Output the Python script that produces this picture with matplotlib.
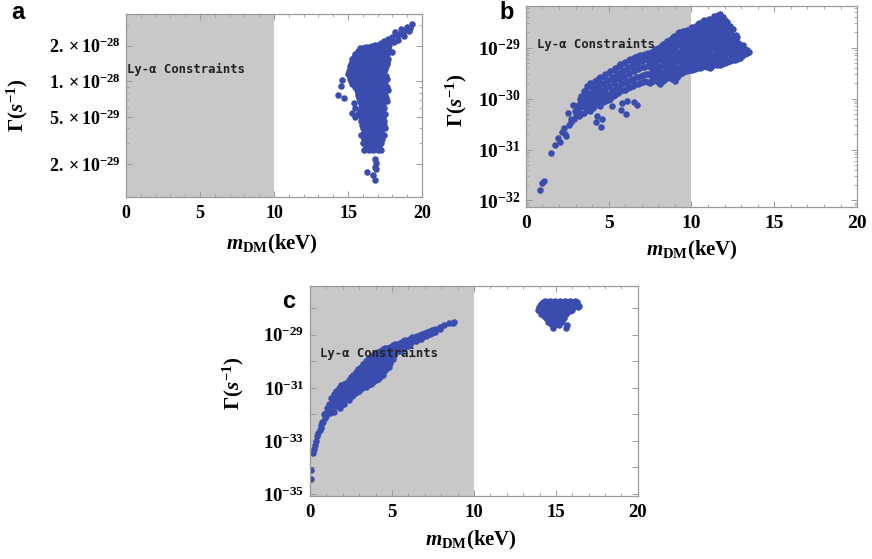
import numpy as np
import matplotlib
matplotlib.use("Agg")
import matplotlib.pyplot as plt
from matplotlib.ticker import FixedLocator, MultipleLocator, NullFormatter, LogLocator

# ---- data ----
# panel a : (m_DM in keV, Gamma in units of 1e-29 s^-1)
points_a = [
    # upper right branch
    (19.3, 30.5), (19.2, 28.5), (19.0, 29), (18.9, 27), (18.7, 26.5), (18.6, 28), (18.5, 25),
    (18.3, 24.5), (18.2, 26), (18.0, 23.5), (17.9, 22), (17.7, 23), (17.6, 21.5), (17.4, 22),
    (17.2, 21), (17.0, 20.5), (16.8, 20.5), (16.6, 20), (16.4, 19.5), (16.2, 19.5), (16.0, 19),
    (18.4, 22.5), (18.1, 21.5), (17.8, 20.5), (17.5, 20), (19.1, 26.5), (18.8, 24), (17.3, 19.5),
    (17.8, 18.5), (18.0, 17.8),
    # main body
    (15.8, 19), (16.1, 19), (16.4, 19), (16.7, 19), (17.0, 19), (17.3, 19),
    (15.65, 18), (15.95, 18), (16.25, 18), (16.55, 18), (16.85, 18), (17.15, 18), (17.45, 18),
    (15.5, 17), (15.8, 17), (16.1, 17), (16.4, 17), (16.7, 17), (17.0, 17), (17.3, 17), (17.6, 17),
    (15.4, 16.2), (15.7, 16.2), (16.0, 16.2), (16.3, 16.2), (16.6, 16.2), (16.9, 16.2), (17.2, 16.2),
    (17.5, 16.2),
    (15.3, 15.5), (15.6, 15.5), (15.9, 15.5), (16.2, 15.5), (16.5, 15.5), (16.8, 15.5), (17.1, 15.5),
    (17.4, 15.5), (17.7, 15.5),
    (15.25, 14.7), (15.55, 14.7), (15.85, 14.7), (16.15, 14.7), (16.45, 14.7), (16.75, 14.7),
    (17.05, 14.7), (17.35, 14.7), (17.65, 14.7),
    (15.2, 14), (15.5, 14), (15.8, 14), (16.1, 14), (16.4, 14), (16.7, 14), (17.0, 14), (17.3, 14),
    (17.6, 14),
    (15.15, 13.4), (15.45, 13.4), (15.75, 13.4), (16.05, 13.4), (16.35, 13.4), (16.65, 13.4),
    (16.95, 13.4), (17.25, 13.4), (17.55, 13.4),
    (15.1, 12.8), (15.4, 12.8), (15.7, 12.8), (16.0, 12.8), (16.3, 12.8), (16.6, 12.8), (16.9, 12.8),
    (17.2, 12.8), (17.5, 12.8),
    (15.05, 12.2), (15.35, 12.2), (15.65, 12.2), (15.95, 12.2), (16.25, 12.2), (16.55, 12.2),
    (16.85, 12.2), (17.15, 12.2), (17.45, 12.2),
    (15.0, 11.6), (15.3, 11.6), (15.6, 11.6), (15.9, 11.6), (16.2, 11.6), (16.5, 11.6), (16.8, 11.6),
    (17.1, 11.6), (17.4, 11.6),
    (15.1, 11.0), (15.45, 11.0), (15.75, 11.0), (16.05, 11.0), (16.35, 11.0), (16.65, 11.0),
    (16.95, 11.0), (17.25, 11.0), (17.55, 11.0),
    (15.1, 10.5), (15.4, 10.5), (15.8, 10.5), (16.1, 10.5), (16.4, 10.5), (16.7, 10.5), (17.0, 10.5),
    (17.3, 10.5), (17.6, 10.5),
    (15.2, 10.0), (15.55, 10.0), (15.9, 10.0), (16.2, 10.0), (16.5, 10.0), (16.8, 10.0), (17.1, 10.0),
    (17.4, 10.0),
    (15.3, 9.5), (15.7, 9.5), (16.0, 9.5), (16.3, 9.5), (16.6, 9.5), (16.9, 9.5), (17.2, 9.5),
    (17.5, 9.5),
    (15.5, 9.0), (15.8, 9.0), (16.1, 9.0), (16.4, 9.0), (16.7, 9.0), (17.0, 9.0), (17.3, 9.0),
    (17.6, 9.0),
    (14.6, 10.3), (14.5, 9.2), (14.3, 7.7), (14.7, 7.2),
    (15.6, 8.5), (15.9, 8.5), (16.2, 8.5), (16.5, 8.5), (16.8, 8.5), (17.1, 8.5), (17.4, 8.5),
    (17.7, 8.5),
    (15.65, 8.0), (15.95, 8.0), (16.25, 8.0), (16.55, 8.0), (16.85, 8.0), (17.15, 8.0), (17.45, 8.0),
    (15.7, 7.6), (16.0, 7.6), (16.3, 7.6), (16.6, 7.6), (16.9, 7.6), (17.2, 7.6), (17.5, 7.6),
    (15.75, 7.2), (16.05, 7.2), (16.35, 7.2), (16.65, 7.2), (16.95, 7.2), (17.25, 7.2), (17.55, 7.2),
    (15.8, 6.8), (16.1, 6.8), (16.4, 6.8), (16.7, 6.8), (17.0, 6.8), (17.3, 6.8), (17.6, 6.8),
    (15.4, 6.6), (15.5, 6.0),
    (15.85, 6.4), (16.15, 6.4), (16.45, 6.4), (16.75, 6.4), (17.05, 6.4), (17.35, 6.4),
    (15.9, 6.0), (16.2, 6.0), (16.5, 6.0), (16.8, 6.0), (17.1, 6.0), (17.4, 6.0),
    (15.8, 5.65), (16.1, 5.65), (16.4, 5.65), (16.7, 5.65), (17.0, 5.65), (17.3, 5.65),
    (15.7, 5.3), (16.0, 5.3), (16.3, 5.3), (16.6, 5.3), (16.9, 5.3), (17.2, 5.3), (17.5, 5.3),
    (15.3, 5.4), (15.5, 5.0),
    (15.85, 4.95), (16.15, 4.95), (16.45, 4.95), (16.75, 4.95), (17.05, 4.95), (17.35, 4.95),
    (15.9, 4.6), (16.2, 4.6), (16.5, 4.6), (16.8, 4.6), (17.1, 4.6), (17.4, 4.6),
    (15.95, 4.3), (16.25, 4.3), (16.55, 4.3), (16.85, 4.3), (17.15, 4.3), (17.45, 4.3),
    (16.0, 4.0), (16.3, 4.0), (16.6, 4.0), (16.9, 4.0), (17.2, 4.0), (17.5, 4.0),
    (16.05, 3.75), (16.35, 3.75), (16.65, 3.75), (16.95, 3.75), (17.25, 3.75),
    (15.9, 3.5), (16.2, 3.5), (16.5, 3.5), (16.8, 3.5), (17.1, 3.5), (17.4, 3.5),
    (16.1, 3.25), (16.4, 3.25), (16.7, 3.25), (17.0, 3.25), (17.3, 3.25),
    (16.0, 3.0), (16.3, 3.0), (16.6, 3.0), (16.9, 3.0), (17.2, 3.0),
    (16.2, 2.8), (16.5, 2.8), (16.8, 2.8), (17.1, 2.8),
    (16.1, 2.6), (16.4, 2.6), (16.7, 2.6), (17.0, 2.6), (17.2, 2.6),
    # lower tail
    (16.8, 2.2), (16.9, 2.05), (16.8, 1.9), (16.9, 1.8), (16.3, 1.72), (16.7, 1.62), (16.8, 1.45),
]

# panel b : (m_DM in keV, Gamma in units of 1e-29 s^-1)
points_b = [
    (0.85, 0.0016), (1.0, 0.0022), (1.1, 0.0024), (1.55, 0.0085), (1.75, 0.0125), (2.05, 0.014),
    (1.95, 0.017), (2.2, 0.022),
    (2.35, 0.02), (2.3, 0.026), (2.45, 0.018),
    (2.6, 0.03), (2.7, 0.04), (2.55, 0.052), (2.75, 0.035),
    (2.9, 0.04), (2.95, 0.056), (2.85, 0.074), (3.05, 0.05), (3.05, 0.07),
    (3.2, 0.045), (3.15, 0.062), (3.3, 0.08), (3.25, 0.1),
    (3.35, 0.05), (3.35, 0.068), (3.4, 0.088), (3.35, 0.11),
    (3.5, 0.052), (3.55, 0.07), (3.45, 0.09), (3.6, 0.12), (3.5, 0.14),
    (3.7, 0.06), (3.7, 0.08), (3.7, 0.11), (3.65, 0.15), (3.7, 0.18),
    (3.85, 0.056), (3.95, 0.075), (3.8, 0.1), (3.9, 0.13), (4.0, 0.17), (3.85, 0.2),
    (4.05, 0.065), (4.05, 0.09), (4.05, 0.115), (4.1, 0.15), (4.05, 0.19),
    (4.2, 0.08), (4.25, 0.1), (4.15, 0.13), (4.3, 0.17), (4.2, 0.22), (4.3, 0.045), (4.25, 0.035),
    (4.35, 0.075), (4.35, 0.095), (4.4, 0.12), (4.35, 0.16), (4.4, 0.21), (4.35, 0.24),
    (4.5, 0.07), (4.55, 0.1), (4.45, 0.14), (4.6, 0.19), (4.5, 0.26), (4.6, 0.04), (4.55, 0.028),
    (4.65, 0.085), (4.65, 0.11), (4.7, 0.15), (4.65, 0.2), (4.7, 0.27),
    (4.8, 0.09), (4.85, 0.12), (4.75, 0.16), (4.9, 0.22), (4.8, 0.3),
    (4.95, 0.095), (4.95, 0.125), (5.0, 0.17), (4.95, 0.235), (5.0, 0.32),
    (5.1, 0.1), (5.15, 0.13), (5.05, 0.18), (5.2, 0.25), (5.1, 0.34), (5.2, 0.07),
    (5.25, 0.11), (5.25, 0.145), (5.3, 0.2), (5.25, 0.27), (5.3, 0.37),
    (5.4, 0.12), (5.45, 0.16), (5.35, 0.22), (5.5, 0.3), (5.4, 0.4),
    (5.55, 0.13), (5.55, 0.175), (5.6, 0.24), (5.55, 0.32), (5.6, 0.43),
    (5.7, 0.14), (5.75, 0.19), (5.65, 0.26), (5.8, 0.35), (5.7, 0.47), (5.75, 0.06), (5.8, 0.08),
    (5.85, 0.145), (5.85, 0.2), (5.9, 0.27), (5.85, 0.36), (5.9, 0.5),
    (6.0, 0.15), (6.05, 0.2), (5.95, 0.28), (6.1, 0.38), (6.0, 0.52), (6.05, 0.05), (6.1, 0.09),
    (6.15, 0.16), (6.15, 0.22), (6.2, 0.3), (6.15, 0.41), (6.2, 0.56),
    (6.3, 0.17), (6.35, 0.23), (6.25, 0.32), (6.4, 0.44), (6.3, 0.6), (6.5, 0.085),
    (6.45, 0.18), (6.45, 0.245), (6.5, 0.34), (6.45, 0.47), (6.5, 0.62),
    (6.6, 0.19), (6.65, 0.26), (6.55, 0.36), (6.7, 0.5), (6.6, 0.64), (6.7, 0.075),
    (6.75, 0.195), (6.75, 0.27), (6.8, 0.38), (6.75, 0.52), (6.8, 0.67),
    (6.9, 0.2), (6.95, 0.28), (6.85, 0.4), (7.0, 0.55), (6.9, 0.7),
    (7.05, 0.21), (7.05, 0.29), (7.1, 0.41), (7.05, 0.56), (7.1, 0.72),
    (7.2, 0.22), (7.25, 0.3), (7.15, 0.42), (7.3, 0.58), (7.2, 0.75),
    (7.35, 0.21), (7.35, 0.3), (7.4, 0.43), (7.35, 0.6), (7.4, 0.78),
    (7.5, 0.2), (7.55, 0.3), (7.45, 0.45), (7.6, 0.62), (7.5, 0.8),
    (7.65, 0.22), (7.65, 0.31), (7.7, 0.46), (7.65, 0.65), (7.7, 0.86),
    (7.6, 0.26), (7.6, 0.38), (7.6, 0.54), (7.6, 0.75),
    (7.8, 0.23), (7.85, 0.33), (7.75, 0.48), (7.9, 0.68), (7.8, 0.92),
    (7.9, 0.27), (7.9, 0.4), (7.9, 0.57), (7.9, 0.8),
    (7.95, 0.21), (7.95, 0.3), (8.0, 0.43), (7.95, 0.61), (8.0, 0.85), (7.95, 1.0),
    (8.1, 0.19), (8.15, 0.27), (8.05, 0.38), (8.2, 0.55), (8.1, 0.78), (8.15, 1.05),
    (8.2, 0.23), (8.2, 0.32), (8.2, 0.46), (8.2, 0.66), (8.2, 0.95),
    (8.25, 0.22), (8.25, 0.31), (8.3, 0.44), (8.25, 0.63), (8.3, 0.9), (8.25, 1.15),
    (8.4, 0.24), (8.45, 0.34), (8.35, 0.5), (8.5, 0.72), (8.4, 1.0), (8.45, 1.25),
    (8.5, 0.29), (8.5, 0.41), (8.5, 0.6), (8.5, 0.86), (8.5, 1.12),
    (8.55, 0.25), (8.55, 0.36), (8.6, 0.52), (8.55, 0.76), (8.6, 1.05), (8.55, 1.35),
    (8.7, 0.26), (8.75, 0.38), (8.65, 0.55), (8.8, 0.8), (8.7, 1.1), (8.75, 1.45),
    (8.8, 0.31), (8.8, 0.45), (8.8, 0.66), (8.8, 0.95), (8.8, 1.27),
    (8.85, 0.24), (8.85, 0.35), (8.9, 0.5), (8.85, 0.74), (8.9, 1.05), (8.85, 1.4), (8.9, 1.6),
    (9.0, 0.22), (9.05, 0.32), (8.95, 0.46), (9.1, 0.68), (9.0, 1.0), (9.05, 1.35), (8.95, 1.7),
    (9.1, 0.27), (9.1, 0.39), (9.1, 0.57), (9.1, 0.83), (9.1, 1.17), (9.1, 1.52),
    (9.15, 0.26), (9.15, 0.37), (9.2, 0.54), (9.15, 0.78), (9.2, 1.15), (9.15, 1.55), (9.2, 1.9),
    (9.3, 0.3), (9.35, 0.43), (9.25, 0.62), (9.4, 0.9), (9.3, 1.3), (9.35, 1.8), (9.25, 2.0),
    (9.4, 0.36), (9.4, 0.52), (9.4, 0.75), (9.4, 1.1), (9.4, 1.55),
    (9.45, 0.32), (9.45, 0.46), (9.5, 0.67), (9.45, 0.97), (9.5, 1.4), (9.45, 1.95), (9.5, 2.1),
    (9.6, 0.34), (9.65, 0.5), (9.55, 0.72), (9.7, 1.05), (9.6, 1.5), (9.65, 2.1),
    (9.7, 0.41), (9.7, 0.6), (9.7, 0.87), (9.7, 1.27), (9.7, 1.8),
    (9.75, 0.35), (9.75, 0.51), (9.8, 0.73), (9.75, 1.07), (9.8, 1.55), (9.75, 2.25),
    (9.9, 0.37), (9.95, 0.52), (9.85, 0.75), (10.0, 1.1), (9.9, 1.6), (9.95, 2.4),
    (10.0, 0.44), (10.0, 0.63), (10.0, 0.92), (10.0, 1.35), (10.0, 2.0),
    (10.05, 0.37), (10.05, 0.53), (10.1, 0.77), (10.05, 1.12), (10.1, 1.65), (10.05, 2.5),
    (10.2, 0.38), (10.25, 0.55), (10.15, 0.8), (10.3, 1.15), (10.2, 1.7), (10.25, 2.6),
    (10.3, 0.46), (10.3, 0.67), (10.3, 0.97), (10.3, 1.42), (10.3, 2.1),
    (10.35, 0.39), (10.35, 0.56), (10.4, 0.82), (10.35, 1.2), (10.4, 1.75), (10.35, 2.6),
    (10.4, 2.9),
    (10.5, 0.4), (10.55, 0.58), (10.45, 0.85), (10.6, 1.25), (10.5, 1.8), (10.55, 2.6), (10.45, 3.1),
    (10.6, 0.48), (10.6, 0.7), (10.6, 1.03), (10.6, 1.5), (10.6, 2.2), (10.6, 2.85),
    (10.65, 0.41), (10.65, 0.6), (10.7, 0.87), (10.65, 1.27), (10.7, 1.85), (10.65, 2.65),
    (10.7, 3.25),
    (10.8, 0.43), (10.85, 0.62), (10.75, 0.9), (10.9, 1.3), (10.8, 1.9), (10.85, 2.7), (10.75, 3.4),
    (10.9, 0.52), (10.9, 0.75), (10.9, 1.08), (10.9, 1.58), (10.9, 2.25), (10.9, 3.05),
    (10.95, 0.41), (10.95, 0.61), (11.0, 0.89), (10.95, 1.3), (11.0, 1.9), (10.95, 2.7),
    (11.0, 3.5),
    (11.1, 0.4), (11.15, 0.6), (11.05, 0.88), (11.2, 1.3), (11.1, 1.9), (11.15, 2.7), (11.05, 3.6),
    (11.2, 0.49), (11.2, 0.73), (11.2, 1.07), (11.2, 1.58), (11.2, 2.3), (11.2, 3.2),
    (11.25, 0.43), (11.25, 0.65), (11.3, 0.94), (11.25, 1.4), (11.3, 2.05), (11.25, 2.9),
    (11.3, 3.85),
    (11.4, 0.47), (11.45, 0.7), (11.35, 1.0), (11.5, 1.5), (11.4, 2.2), (11.45, 3.1), (11.35, 4.1),
    (11.5, 0.57), (11.5, 0.84), (11.5, 1.22), (11.5, 1.82), (11.5, 2.6), (11.5, 3.6),
    (11.55, 0.46), (11.55, 0.69), (11.6, 1.0), (11.55, 1.5), (11.6, 2.2), (11.55, 3.15),
    (11.6, 4.3),
    (11.7, 0.46), (11.75, 0.68), (11.65, 1.0), (11.8, 1.5), (11.7, 2.2), (11.75, 3.2), (11.7, 4.6),
    (11.8, 0.56), (11.8, 0.83), (11.8, 1.22), (11.8, 1.82), (11.8, 2.65), (11.8, 3.8),
    (11.85, 0.48), (11.85, 0.71), (11.9, 1.05), (11.85, 1.55), (11.9, 2.3), (11.85, 3.35),
    (11.9, 4.0),
    (12.0, 0.5), (12.05, 0.75), (11.95, 1.1), (12.1, 1.6), (12.0, 2.4), (12.05, 3.5),
    (12.1, 0.61), (12.1, 0.9), (12.1, 1.33), (12.1, 1.95), (12.1, 2.9),
    (12.15, 0.52), (12.15, 0.77), (12.2, 1.15), (12.15, 1.7), (12.2, 2.55), (12.15, 3.2),
    (12.3, 0.55), (12.35, 0.8), (12.25, 1.2), (12.4, 1.8), (12.3, 2.7),
    (12.4, 0.66), (12.4, 0.98), (12.4, 1.47), (12.4, 2.2),
    (12.45, 0.56), (12.45, 0.82), (12.5, 1.22), (12.45, 1.8), (12.5, 2.3),
    (12.6, 0.58), (12.65, 0.85), (12.55, 1.25), (12.7, 1.8),
    (12.7, 0.7), (12.7, 1.03), (12.7, 1.5),
    (12.75, 0.6), (12.75, 0.85), (12.8, 1.22), (12.75, 1.6),
    (12.9, 0.62), (12.95, 0.85), (12.85, 1.2),
    (13.0, 0.73), (13.0, 1.0),
    (13.05, 0.68), (13.05, 0.9), (13.1, 1.1),
    (13.2, 0.75), (13.25, 0.95),
    (13.3, 0.86), (13.35, 0.78), (13.35, 0.9),
    (13.5, 0.82),
]

# panel c : (m_DM in keV, log10 Gamma)
points_c = [
    (0.05, -34.1), (0.05, -34.45), (0.2, -33.45), (0.25, -33.3), (0.3, -33.15), (0.38, -33.0),
    (0.45, -32.8), (0.5, -32.7), (0.6, -32.6), (0.65, -32.5), (0.7, -32.4), (0.75, -32.3),
    (0.8, -32.27), (0.85, -32.0), (0.9, -32.15), (0.95, -32.05), (1.0, -31.96), (1.05, -31.75),
    (1.1, -31.83), (1.15, -31.6), (1.2, -31.7), (1.2, -31.95),
    (1.3, -31.4), (1.35, -31.6), (1.25, -31.85),
    (1.45, -31.25), (1.45, -31.45), (1.5, -31.7), (1.45, -31.9),
    (1.6, -31.1), (1.65, -31.3), (1.55, -31.5), (1.6, -31.7),
    (1.75, -31.0), (1.75, -31.2), (1.8, -31.4), (1.75, -31.6), (1.8, -31.75),
    (1.9, -30.9), (1.95, -31.1), (1.85, -31.3), (1.9, -31.5), (1.95, -31.6),
    (2.05, -30.85), (2.05, -31.05), (2.1, -31.25), (2.05, -31.45), (2.1, -31.6),
    (2.2, -30.8), (2.25, -31.0), (2.15, -31.2), (2.2, -31.4),
    (2.35, -30.7), (2.35, -30.9), (2.4, -31.1), (2.35, -31.3), (2.4, -31.45),
    (2.5, -30.6), (2.55, -30.8), (2.45, -31.0), (2.5, -31.2), (2.55, -31.3),
    (2.65, -30.5), (2.65, -30.7), (2.7, -30.9), (2.65, -31.1), (2.7, -31.25),
    (2.8, -30.4), (2.85, -30.6), (2.75, -30.8), (2.8, -31.0), (2.85, -31.15),
    (2.95, -30.3), (2.95, -30.5), (3.0, -30.7), (2.95, -30.9), (3.0, -31.1),
    (3.1, -30.2), (3.15, -30.4), (3.05, -30.6), (3.1, -30.8), (3.15, -31.0),
    (3.25, -30.1), (3.25, -30.3), (3.3, -30.5), (3.25, -30.7), (3.3, -30.9),
    (3.4, -30.0), (3.45, -30.2), (3.35, -30.4), (3.4, -30.6), (3.45, -30.8), (3.4, -30.95),
    (3.55, -29.92), (3.55, -30.12), (3.6, -30.32), (3.55, -30.52), (3.6, -30.72), (3.55, -30.9),
    (3.7, -29.85), (3.75, -30.05), (3.65, -30.25), (3.7, -30.45), (3.75, -30.65), (3.7, -30.85),
    (3.85, -29.78), (3.85, -29.98), (3.9, -30.18), (3.85, -30.38), (3.9, -30.58), (3.85, -30.78),
    (4.0, -29.7), (4.05, -29.9), (3.95, -30.1), (4.0, -30.3), (4.05, -30.5), (4.0, -30.7),
    (4.15, -29.65), (4.15, -29.85), (4.2, -30.05), (4.15, -30.25), (4.2, -30.45), (4.15, -30.65),
    (4.3, -29.6), (4.35, -29.8), (4.25, -30.0), (4.3, -30.2), (4.35, -30.4), (4.3, -30.6),
    (4.45, -29.55), (4.45, -29.75), (4.5, -29.95), (4.45, -30.15), (4.5, -30.35), (4.45, -30.5),
    (4.6, -29.5), (4.65, -29.7), (4.55, -29.9), (4.6, -30.1), (4.65, -30.3),
    (4.75, -29.48), (4.75, -29.68), (4.8, -29.88), (4.75, -30.08), (4.8, -30.2),
    (4.9, -29.45), (4.95, -29.65), (4.85, -29.85), (4.9, -30.05),
    (5.05, -29.4), (5.05, -29.55), (5.1, -29.75), (5.05, -29.9),
    (5.2, -29.35), (5.25, -29.5), (5.15, -29.65),
    (5.35, -29.33), (5.35, -29.48), (5.4, -29.62),
    (5.5, -29.3), (5.55, -29.45), (5.45, -29.6),
    (5.65, -29.25), (5.65, -29.4), (5.7, -29.53),
    (5.8, -29.2), (5.85, -29.35), (5.75, -29.48),
    (5.95, -29.18), (5.95, -29.32), (6.0, -29.42),
    (6.1, -29.15), (6.15, -29.3),
    (6.25, -29.1), (6.25, -29.25),
    (6.4, -29.08), (6.45, -29.22),
    (6.55, -29.05), (6.55, -29.18),
    (6.7, -29.02), (6.75, -29.15),
    (6.85, -28.97), (6.85, -29.1),
    (7.0, -28.93), (7.05, -29.05),
    (7.15, -28.9), (7.15, -29.0),
    (7.3, -28.85), (7.35, -28.97),
    (7.45, -28.82), (7.45, -28.92),
    (7.6, -28.78), (7.65, -28.88),
    (7.9, -28.7), (7.95, -28.78),
    (8.2, -28.63), (8.5, -28.57), (8.8, -28.53), (8.7, -28.55),
    # cluster near 15 keV
    (14.2, -27.78), (14.5, -27.78), (14.8, -27.78), (15.1, -27.78), (15.4, -27.78), (15.7, -27.78),
    (16.0, -27.78), (16.3, -27.78),
    (14.35, -27.72), (14.65, -27.72), (14.95, -27.72), (15.25, -27.72), (15.55, -27.72),
    (15.85, -27.72), (16.15, -27.72),
    (14.1, -27.84), (14.4, -27.84), (14.7, -27.84), (15.0, -27.84), (15.3, -27.84), (15.6, -27.84),
    (15.9, -27.84), (16.2, -27.84),
    (14.0, -27.9), (14.3, -27.9), (14.6, -27.9), (14.9, -27.9), (15.2, -27.9), (15.5, -27.9),
    (15.8, -27.9), (16.1, -27.9), (16.4, -27.9),
    (13.95, -27.97), (14.25, -27.97), (14.55, -27.97), (14.85, -27.97), (15.15, -27.97),
    (15.45, -27.97), (15.75, -27.97), (16.05, -27.97), (16.35, -27.97),
    (13.9, -28.05), (14.2, -28.05), (14.5, -28.05), (14.8, -28.05), (15.1, -28.05), (15.4, -28.05),
    (15.7, -28.05), (16.0, -28.05),
    (14.05, -28.12), (14.35, -28.12), (14.65, -28.12), (14.95, -28.12), (15.25, -28.12),
    (15.55, -28.12), (15.85, -28.12),
    (14.1, -28.2), (14.4, -28.2), (14.7, -28.2), (15.0, -28.2), (15.3, -28.2), (15.6, -28.2),
    (14.3, -28.28), (14.55, -28.28), (14.85, -28.28), (15.1, -28.28), (15.4, -28.28),
    (14.4, -28.35), (14.7, -28.35), (14.9, -28.35), (15.2, -28.35), (15.5, -28.35),
    (14.6, -28.42), (14.95, -28.42), (15.3, -28.42),
    (14.5, -28.5), (14.8, -28.5), (15.1, -28.5), (15.4, -28.5),
    (14.7, -28.58), (15.0, -28.58),
    (14.9, -28.65), (15.2, -28.65), (15.7, -28.65),
    (14.8, -28.75), (15.6, -28.75),
]

x_ticks = [0, 5, 10, 15, 20]
a_yticks = [2e-29, 5e-29, 1e-28, 2e-28]
a_ylabels = [r'$\mathbf{2.\times10^{-29}}$', r'$\mathbf{5.\times10^{-29}}$',
             r'$\mathbf{1.\times10^{-28}}$', r'$\mathbf{2.\times10^{-28}}$']
b_yticks = [1e-32, 1e-31, 1e-30, 1e-29]
b_ylabels = [r'$\mathbf{10^{-32}}$', r'$\mathbf{10^{-31}}$', r'$\mathbf{10^{-30}}$', r'$\mathbf{10^{-29}}$']
c_yticks = [1e-35, 1e-34, 1e-33, 1e-32, 1e-31, 1e-30, 1e-29, 1e-28]
c_ylabels = [r'$\mathbf{10^{-35}}$', '', r'$\mathbf{10^{-33}}$', '', r'$\mathbf{10^{-31}}$', '',
             r'$\mathbf{10^{-29}}$', '']

# ---- style ----
plt.rcParams['mathtext.fontset'] = 'custom'
plt.rcParams['mathtext.rm'] = 'Liberation Serif:bold'
plt.rcParams['mathtext.it'] = 'Liberation Serif:italic:bold'
plt.rcParams['mathtext.bf'] = 'Liberation Serif:bold'
plt.rcParams['font.family'] = ['Liberation Serif', 'DejaVu Serif']

GRAY = '#c8c8c8'
BLUE = '#3a4cad'
FRAME = '#9a9a9a'
DOT = 22


def setup(ax, ylim, yticks, ylabels, fs):
    ax.axvspan(0, 10, color=GRAY, lw=0, zorder=0)
    ax.set_xlim(0, 20)
    ax.set_yscale('log')
    ax.set_ylim(*ylim)
    ax.set_xticks(x_ticks)
    ax.set_xticklabels([str(t) for t in x_ticks], fontsize=fs, fontweight='bold')
    ax.xaxis.set_minor_locator(MultipleLocator(1))
    ax.yaxis.set_major_locator(FixedLocator(yticks))
    ax.set_yticklabels(ylabels, fontsize=fs)
    ax.yaxis.set_minor_formatter(NullFormatter())
    ax.tick_params(which='both', direction='in', top=True, right=True, color=FRAME)
    ax.tick_params(which='major', length=4, width=0.7)
    ax.tick_params(which='minor', length=2, width=0.6)
    ax.tick_params(axis='x', pad=6)
    ax.tick_params(axis='y', pad=4)
    for s in ax.spines.values():
        s.set_color(FRAME)
        s.set_linewidth(0.9)


fig = plt.figure(figsize=(8.72, 5.59), dpi=100)

ax_a = fig.add_axes([0.1445, 0.6476, 0.3395, 0.327])
ax_b = fig.add_axes([0.603, 0.630, 0.380, 0.359])
ax_c = fig.add_axes([0.3555, 0.1127, 0.376, 0.376])

setup(ax_a, (1.05e-29, 3.7e-28), a_yticks, a_ylabels, 13)
ax_a.yaxis.set_minor_locator(LogLocator(base=10, subs=np.arange(1, 10) * 1.0))
setup(ax_b, (7.5e-33, 6.5e-29), b_yticks, b_ylabels, 14)
ax_b.yaxis.set_minor_locator(LogLocator(base=10, subs=np.arange(2, 10) * 1.0))
setup(ax_c, (8.4e-36, 7e-28), c_yticks, c_ylabels, 13.5)
ax_c.yaxis.set_minor_locator(FixedLocator([]))

m_a, g_a = np.array(points_a).T
ax_a.scatter(m_a, g_a * 1e-29, s=DOT, color=BLUE, lw=0, zorder=2)
m_b, g_b = np.array(points_b).T
ax_b.scatter(m_b, g_b * 1e-29, s=DOT, color=BLUE, lw=0, zorder=2)
m_c, lg_c = np.array(points_c).T
ax_c.scatter(m_c, 10 ** lg_c, s=DOT, color=BLUE, lw=0, zorder=2)

lya = dict(family='DejaVu Sans Mono', fontsize=8.8, fontweight='bold', color='#222222',
           ha='left', va='center', zorder=3)
ax_a.text(0.1, 1.25e-28, 'Ly-α Constraints', **lya)
ax_b.text(0.66, 1.17e-29, 'Ly-α Constraints', **lya)
ax_c.text(0.6, 10 ** -29.72, 'Ly-α Constraints', **lya)

# axis titles
xl = r'$m_{\mathrm{DM}}(\mathrm{keV})$'
yl = r'$\Gamma(s^{-1})$'
fig.text(0.312, 0.5635, xl, fontsize=15, ha='center', va='center')
fig.text(0.0195, 0.812, yl, fontsize=15, ha='center', va='center', rotation=90)
fig.text(0.7935, 0.5528, xl, fontsize=15, ha='center', va='center')
fig.text(0.523, 0.821, yl, fontsize=15, ha='center', va='center', rotation=90)
fig.text(0.540, 0.034, xl, fontsize=15, ha='center', va='center')
fig.text(0.268, 0.315, yl, fontsize=15, ha='center', va='center', rotation=90)

# panel letters
pl = dict(family='Liberation Sans', fontsize=17, fontweight='bold', ha='center', va='center')
fig.text(0.0206, 0.977, 'a', **pl)
fig.text(0.5814, 0.9785, 'b', **pl)
fig.text(0.3314, 0.4606, 'c', **pl)

fig.savefig('out.png', dpi=100)
